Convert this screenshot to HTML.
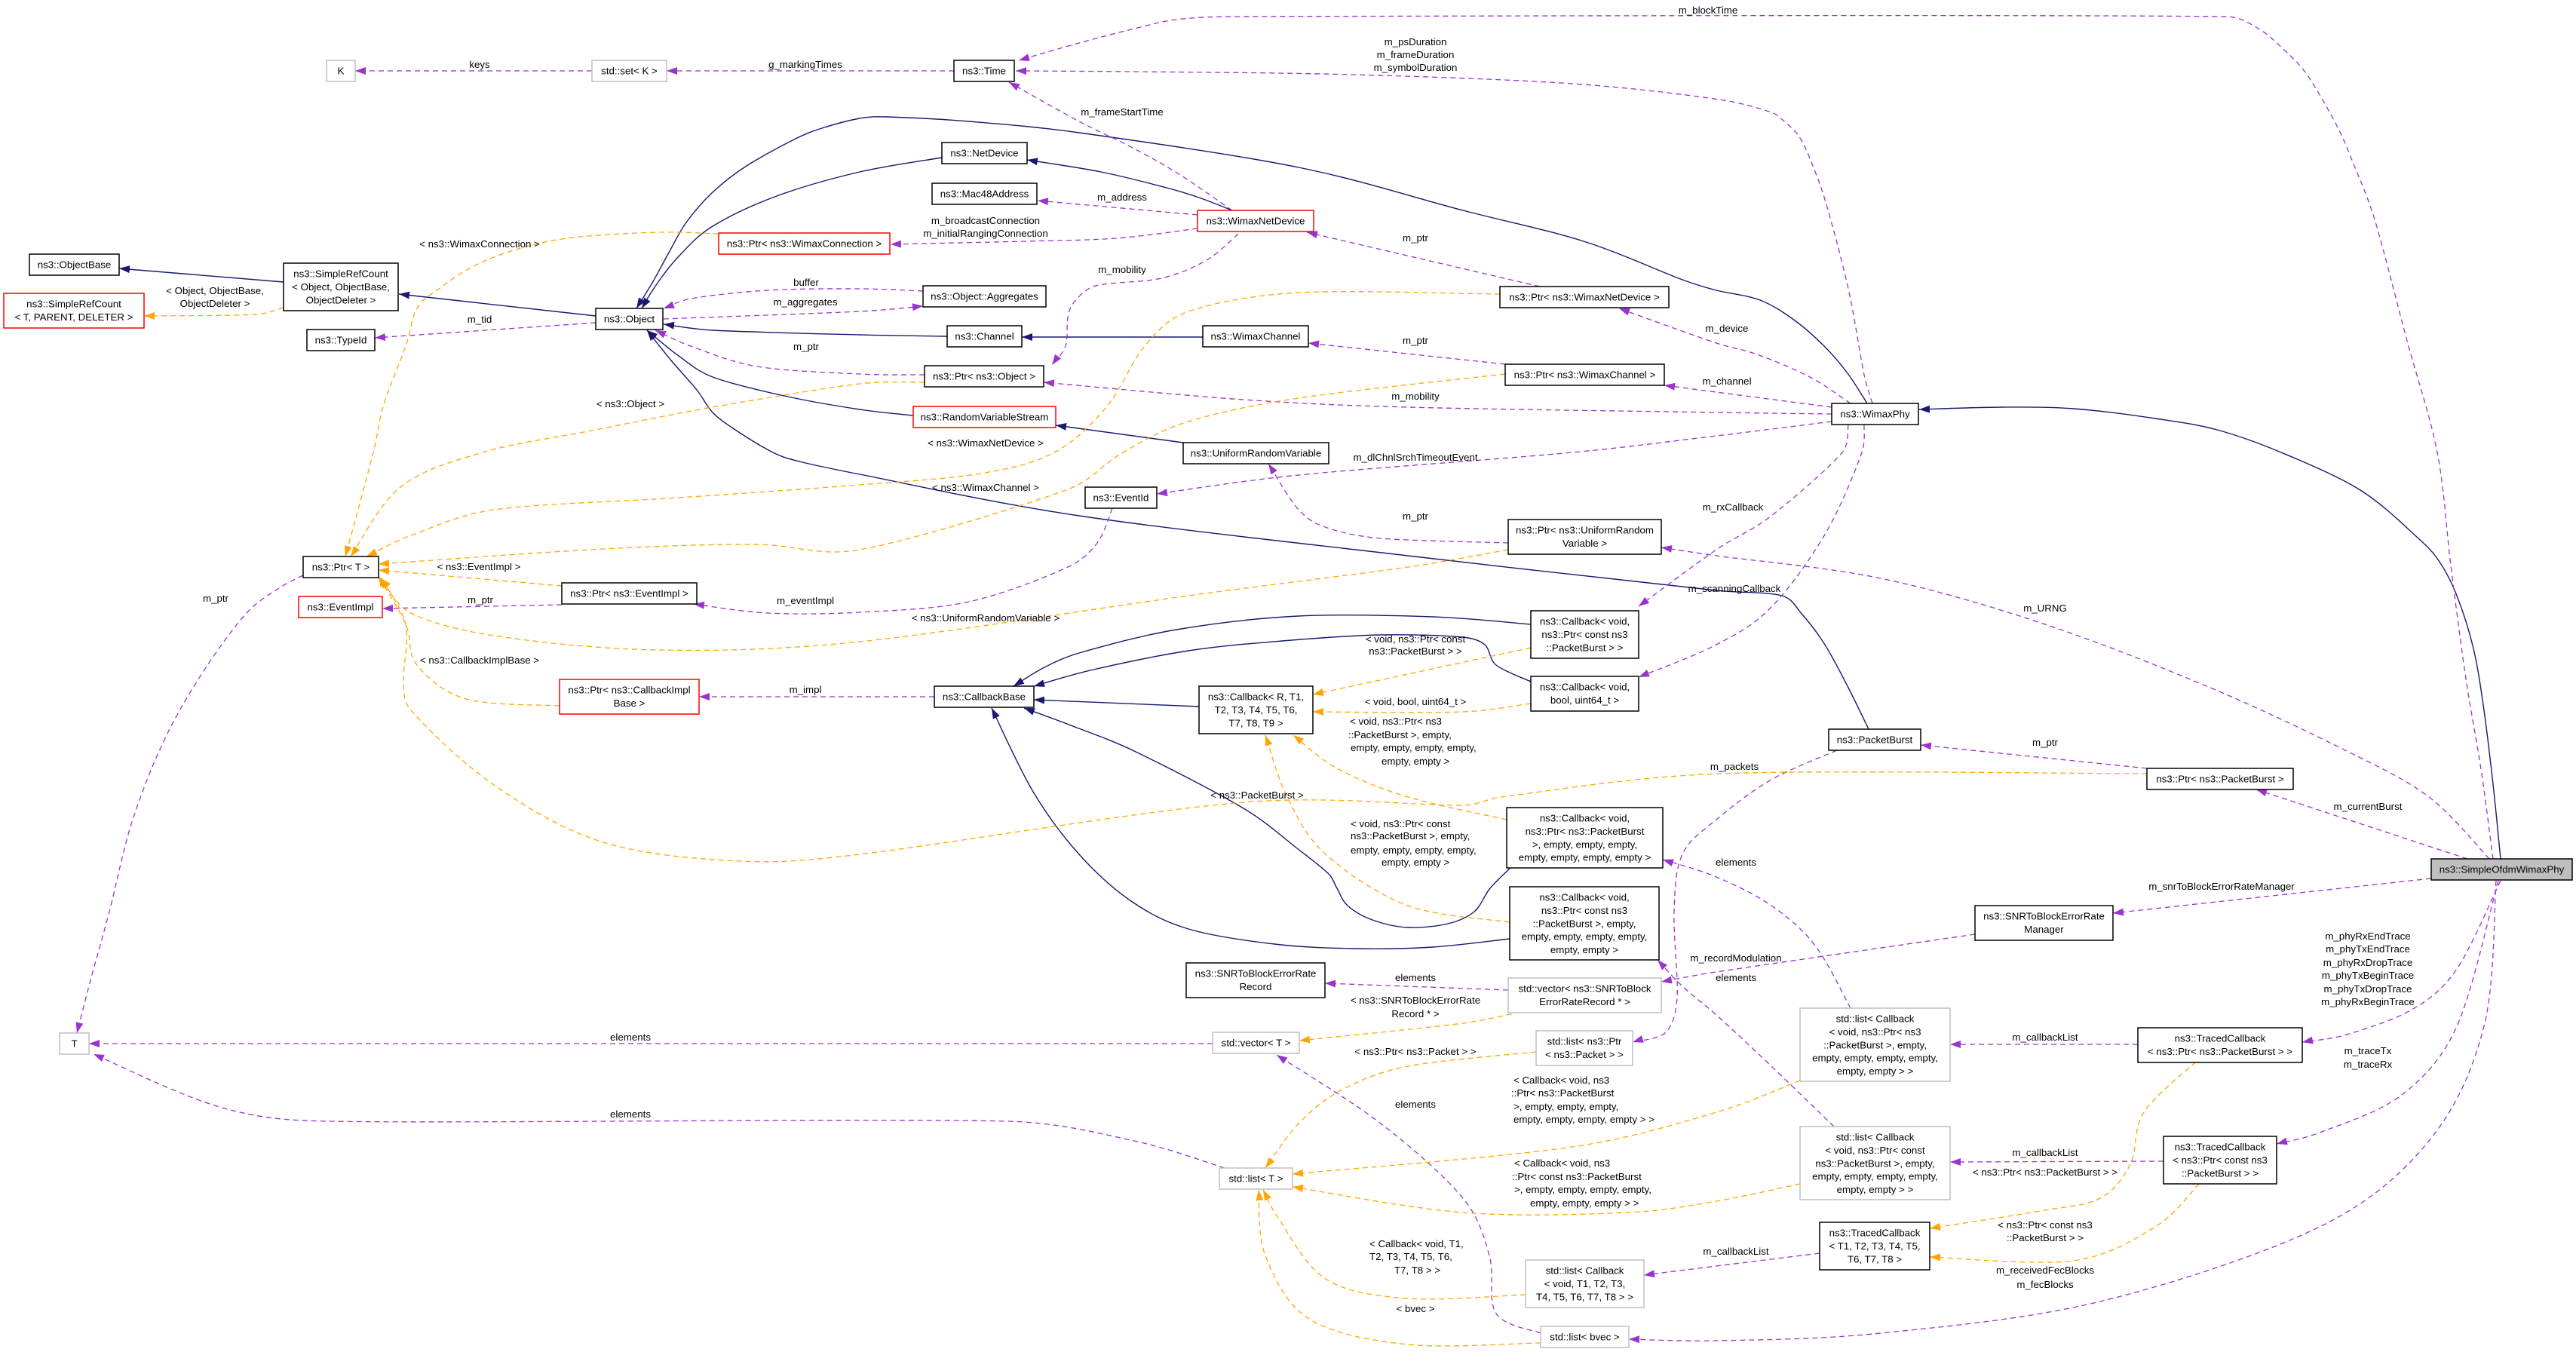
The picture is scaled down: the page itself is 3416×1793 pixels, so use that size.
<!DOCTYPE html>
<html><head><meta charset="utf-8"><style>
html,body{margin:0;padding:0;background:#fff}
svg{display:block}
text{font-family:"Liberation Sans",Arial,sans-serif;font-size:13.3px;fill:#000}
.n{fill:none;stroke:#191970;stroke-width:1.4;stroke-linejoin:round}
.p{fill:none;stroke:#9a32cd;stroke-width:1.3;stroke-dasharray:7,5;stroke-linejoin:round}
.o{fill:none;stroke:#ffa500;stroke-width:1.3;stroke-dasharray:7,5;stroke-linejoin:round}
.bk{fill:#fff;stroke:#000;stroke-width:1.5}
.gr{fill:#fff;stroke:#bfbfbf;stroke-width:1.5}
.rd{fill:#fff;stroke:#ff0000;stroke-width:1.5}
.sel{fill:#bfbfbf;stroke:#000;stroke-width:1.5}
.c{text-anchor:middle}
</style></head><body>
<svg width="3416" height="1793" viewBox="0 0 3416 1793" xmlns="http://www.w3.org/2000/svg">
<defs>
<marker id="ap" markerUnits="userSpaceOnUse" markerWidth="15" markerHeight="11" refX="14" refY="5" orient="auto"><path d="M0,0 L14,5 L0,10 z" fill="#9a32cd"/></marker>
<marker id="ao" markerUnits="userSpaceOnUse" markerWidth="15" markerHeight="11" refX="14" refY="5" orient="auto"><path d="M0,0 L14,5 L0,10 z" fill="#ffa500"/></marker>
<marker id="an" markerUnits="userSpaceOnUse" markerWidth="15" markerHeight="11" refX="14" refY="5" orient="auto"><path d="M0,0 L14,5 L0,10 z" fill="#191970"/></marker>
</defs>
<rect width="3416" height="1793" fill="#fff"/>

<!-- navy inheritance edges -->
<g marker-end="url(#an)">
<polyline class="n" points="790,419 529,390"/>
<polyline class="n" points="376,374 158,356"/>
<polyline class="n" points="1249,209 1140,228 1030,260 945,300 900,340 870,378 851,409"/>
<polyline class="n" points="1634,279 1590,262 1547,249 1460,228 1362,212"/>
<polyline class="n" points="2476,535 2450,495 2420,460 2380,425 2334,398 2276,385 2231,371 2100,320 1940,279 1722,222 1431,176 1285,161 1176,155 1140,157 1090,170 1055,184 990,220 945,255 910,295 887,335 865,375 844,409"/>
<polyline class="n" points="1256,446 1140,444 945,438 880,430"/>
<polyline class="n" points="1595,447 1355,447"/>
<polyline class="n" points="1211,551 1140,543 1040,525 945,500 900,472 858,438"/>
<polyline class="n" points="1569,587 1400,564"/>
<polyline class="n" points="2478,967 2450,910 2420,855 2390,815 2363,790 2276,783 1867,737 1431,684 1140,629 1060,612 1025,600 975,570 945,547 924,517 890,478 858,438"/>
<polyline class="n" points="2030,828 1900,818 1722,817 1560,835 1431,866 1385,885 1344,910"/>
<polyline class="n" points="2030,904 1984,882 1969,855 1940,845 1831,842 1700,850 1576,863 1450,888 1371,910"/>
<polyline class="n" points="1590,937 1371,928"/>
<polyline class="n" points="2005,1149 1976,1178 1955,1209 1920,1225 1867,1230 1820,1220 1787,1201 1773,1178 1762,1159 1720,1125 1649,1072 1504,996 1420,962 1358,939"/>
<polyline class="n" points="2002,1245 1900,1256 1795,1258 1690,1252 1576,1232 1500,1195 1431,1133 1370,1050 1315,939"/>
<polyline class="n" points="3316,1139 3306,1040 3294,942 3280,860 3258,790 3235,745 3207,714 3130,650 3025,600 2940,570 2858,555 2750,542 2654,540 2545,543"/>
</g>

<!-- purple usage edges -->
<g marker-end="url(#ap)">
<polyline class="p" points="785,94 471,94"/>
<polyline class="p" points="1265,94 884,94"/>
<polyline class="p" points="3306,1139 3290,1020 3270,900 3250,750 3232,600 3192,452 3149,291 3120,215 3098,165 3060,100 3032,69 2995,38 2952,22 1635,22 1560,26 1504,38 1431,57 1351,80"/>
<polyline class="p" points="2483,535 2472,497 2451,383 2421,268 2400,210 2385,180 2365,160 2349,149 2280,132 2085,111 1795,99 1500,95 1347,94"/>
<polyline class="p" points="1634,279 1562,230 1500,195 1431,161 1338,109"/>
<polyline class="p" points="1588,285 1376,266"/>
<polyline class="p" points="1588,303 1480,316 1358,320 1181,324"/>
<polyline class="p" points="1642,310 1600,345 1540,369 1453,379 1425,400 1416,421 1413,459 1395,484"/>
<polyline class="p" points="2042,380 1733,308"/>
<polyline class="p" points="2454,535 2400,500 2330,470 2276,455 2147,409"/>
<polyline class="p" points="1996,483 1735,455"/>
<polyline class="p" points="2429,540 2207,511"/>
<polyline class="p" points="2429,549 2280,547 1867,540 1649,530 1384,507"/>
<polyline class="p" points="2429,559 2276,578 2085,600 1722,630 1534,655"/>
<polyline class="p" points="2000,720 1831,714 1760,700 1722,676 1682,615"/>
<polyline class="p" points="3301,1139 3221,1057 3112,996 2931,912 2712,828 2494,767 2276,737 2203,726"/>
<polyline class="p" points="1475,674 1455,720 1416,752 1285,798 1140,812 1018,813 920,801"/>
<polyline class="p" points="745,802 507,807"/>
<polyline class="p" points="402,763 370,780 327,813 270,890 218,981 175,1090 145,1209 120,1300 102,1370"/>
<polyline class="p" points="1239,924 927,924"/>
<polyline class="p" points="2451,563 2443,600 2349,684 2276,729 2173,804"/>
<polyline class="p" points="2472,563 2469,600 2421,707 2349,805 2276,855 2173,898"/>
<polyline class="p" points="2847,1019 2547,988"/>
<polyline class="p" points="3272,1139 2992,1047"/>
<polyline class="p" points="2436,995 2349,1034 2276,1087 2231,1133 2220,1209 2224,1323 2209,1369 2165,1382"/>
<polyline class="p" points="2454,1337 2407,1254 2349,1201 2276,1163 2205,1140"/>
<polyline class="p" points="2432,1494 2349,1414 2276,1346 2231,1308 2198,1273"/>
<polyline class="p" points="2000,1313 1757,1304"/>
<polyline class="p" points="2619,1239 2276,1289 2203,1302"/>
<polyline class="p" points="3224,1165 2802,1211"/>
<polyline class="p" points="2835,1385 2586,1385"/>
<polyline class="p" points="3316,1168 3258,1285 3200,1338 3112,1372 3053,1382"/>
<polyline class="p" points="3313,1168 3258,1361 3185,1452 3076,1502 3019,1517"/>
<polyline class="p" points="2869,1540 2586,1541"/>
<polyline class="p" points="3310,1168 3294,1361 3221,1513 3076,1627 2785,1726 2494,1768 2276,1778 2160,1776"/>
<polyline class="p" points="2413,1662 2276,1679 2180,1691"/>
<polyline class="p" points="2043,1768 1984,1742 1975,1665 1940,1589 1831,1490 1693,1399"/>
<polyline class="p" points="1608,1384 118,1384"/>
<polyline class="p" points="1624,1549 1504,1513 1336,1487 436,1487 291,1468 124,1398"/>
<polyline class="p" points="1226,497 1140,496 1004,486 916,459 869,438"/>
<polyline class="p" points="1224,386 1140,383 1018,385 916,396 880,409"/>
<polyline class="p" points="880,423 1140,413 1224,406"/>
<polyline class="p" points="790,428 497,448"/>
</g>

<!-- orange template edges -->
<g marker-end="url(#ao)">
<polyline class="o" points="376,408 340,417 191,419"/>
<polyline class="o" points="953,310 873,308 760,315 691,329 630,352 582,383 553,409 538,459 509,536 495,600 458,738"/>
<polyline class="o" points="1226,507 1140,509 945,540 790,570 640,600 531,646 465,738"/>
<polyline class="o" points="1989,390 1722,388 1576,413 1518,459 1467,540 1398,600 1300,628 1140,643 900,660 655,676 545,710 486,738"/>
<polyline class="o" points="1996,496 1722,528 1576,559 1489,600 1416,649 1140,729 1000,722 800,728 502,748"/>
<polyline class="o" points="2000,729 1867,752 1576,790 1140,851 873,862 655,843 545,813 505,767"/>
<polyline class="o" points="2847,1026 2280,1026 1991,1057 1940,1068 1649,1064 1140,1133 982,1142 800,1117 655,1041 545,942 535,904 538,828 505,766"/>
<polyline class="o" points="742,936 618,927 553,882 538,828 502,764"/>
<polyline class="o" points="745,777 502,756"/>
<polyline class="o" points="2030,859 1741,921"/>
<polyline class="o" points="2030,933 1940,944 1741,944"/>
<polyline class="o" points="1998,1087 1867,1057 1773,1019 1715,975"/>
<polyline class="o" points="2002,1223 1867,1201 1758,1133 1707,1057 1678,975"/>
<polyline class="o" points="2016,1342 1940,1357 1723,1380"/>
<polyline class="o" points="2037,1395 1867,1414 1780,1445 1722,1490 1678,1549"/>
<polyline class="o" points="2387,1433 2276,1475 2085,1521 1714,1557"/>
<polyline class="o" points="2387,1570 2276,1593 2158,1608 1940,1608 1714,1574"/>
<polyline class="o" points="2023,1717 1867,1722 1758,1696 1693,1612 1675,1578"/>
<polyline class="o" points="2043,1781 1867,1783 1736,1749 1678,1665 1669,1578"/>
<polyline class="o" points="2912,1408 2843,1475 2825,1544 2785,1589 2712,1605 2559,1629"/>
<polyline class="o" points="2916,1570 2858,1627 2749,1672 2559,1667"/>
</g>

<!-- nodes -->
<g>
<rect class="gr" x="433" y="80" width="38" height="28"/><text class="c" x="452" y="98.5">K</text>
<rect class="gr" x="785" y="80" width="99" height="28"/><text class="c" x="834.5" y="98.5">std::set&lt; K &gt;</text>
<rect class="bk" x="1265" y="80" width="80" height="28"/><text class="c" x="1305" y="98.5">ns3::Time</text>
<rect class="bk" x="1249" y="189" width="113" height="28"/><text class="c" x="1305.5" y="207.5">ns3::NetDevice</text>
<rect class="bk" x="1236" y="243" width="139" height="28"/><text class="c" x="1305.5" y="261.5">ns3::Mac48Address</text>
<rect class="rd" x="1588" y="279" width="154" height="28"/><text class="c" x="1665" y="297.5">ns3::WimaxNetDevice</text>
<rect class="bk" x="39" y="337" width="119" height="28"/><text class="c" x="98.5" y="355.5">ns3::ObjectBase</text>
<rect class="bk" x="376" y="349" width="152" height="63"/><text class="c" x="452" y="367.5">ns3::SimpleRefCount</text><text class="c" x="452" y="384.9">&lt; Object, ObjectBase,</text><text class="c" x="452" y="402.3">ObjectDeleter &gt;</text>
<rect class="rd" x="5" y="389" width="186" height="46"/><text class="c" x="98" y="407.5">ns3::SimpleRefCount</text><text class="c" x="98" y="424.9">&lt; T, PARENT, DELETER &gt;</text>
<rect class="rd" x="953" y="309" width="227" height="28"/><text class="c" x="1066.5" y="327.5">ns3::Ptr&lt; ns3::WimaxConnection &gt;</text>
<rect class="bk" x="1224" y="379" width="163" height="28"/><text class="c" x="1305.5" y="397.5">ns3::Object::Aggregates</text>
<rect class="bk" x="790" y="409" width="89" height="28"/><text class="c" x="834.5" y="427.5">ns3::Object</text>
<rect class="bk" x="407" y="437" width="90" height="28"/><text class="c" x="452" y="455.5">ns3::TypeId</text>
<rect class="bk" x="1256" y="432" width="99" height="28"/><text class="c" x="1305.5" y="450.5">ns3::Channel</text>
<rect class="bk" x="1595" y="432" width="140" height="28"/><text class="c" x="1665" y="450.5">ns3::WimaxChannel</text>
<rect class="bk" x="1989" y="380" width="224" height="28"/><text class="c" x="2101" y="398.5">ns3::Ptr&lt; ns3::WimaxNetDevice &gt;</text>
<rect class="bk" x="1226" y="485" width="158" height="28"/><text class="c" x="1305" y="503.5">ns3::Ptr&lt; ns3::Object &gt;</text>
<rect class="bk" x="1996" y="483" width="211" height="28"/><text class="c" x="2101.5" y="501.5">ns3::Ptr&lt; ns3::WimaxChannel &gt;</text>
<rect class="bk" x="2429" y="535" width="115" height="28"/><text class="c" x="2486.5" y="553.5">ns3::WimaxPhy</text>
<rect class="rd" x="1211" y="539" width="189" height="28"/><text class="c" x="1305.5" y="557.5">ns3::RandomVariableStream</text>
<rect class="bk" x="1569" y="587" width="193" height="28"/><text class="c" x="1665.5" y="605.5">ns3::UniformRandomVariable</text>
<rect class="bk" x="1439" y="646" width="95" height="28"/><text class="c" x="1486.5" y="664.5">ns3::EventId</text>
<rect class="bk" x="2000" y="689" width="203" height="46"/><text class="c" x="2101.5" y="707.5">ns3::Ptr&lt; ns3::UniformRandom</text><text class="c" x="2101.5" y="724.9">Variable &gt;</text>
<rect class="bk" x="402" y="738" width="100" height="28"/><text class="c" x="452" y="756.5">ns3::Ptr&lt; T &gt;</text>
<rect class="bk" x="745" y="773" width="179" height="28"/><text class="c" x="834.5" y="791.5">ns3::Ptr&lt; ns3::EventImpl &gt;</text>
<rect class="rd" x="396" y="791" width="111" height="28"/><text class="c" x="451.5" y="809.5">ns3::EventImpl</text>
<rect class="bk" x="2030" y="810" width="143" height="63"/><text class="c" x="2101.5" y="828.5">ns3::Callback&lt; void,</text><text class="c" x="2101.5" y="845.9">ns3::Ptr&lt; const ns3</text><text class="c" x="2101.5" y="863.3">::PacketBurst &gt; &gt;</text>
<rect class="bk" x="2030" y="897" width="143" height="46"/><text class="c" x="2101.5" y="915.5">ns3::Callback&lt; void,</text><text class="c" x="2101.5" y="932.9">bool, uint64_t &gt;</text>
<rect class="rd" x="742" y="901" width="185" height="46"/><text class="c" x="834.5" y="919.5">ns3::Ptr&lt; ns3::CallbackImpl</text><text class="c" x="834.5" y="936.9">Base &gt;</text>
<rect class="bk" x="1239" y="910" width="132" height="28"/><text class="c" x="1305" y="928.5">ns3::CallbackBase</text>
<rect class="bk" x="1590" y="910" width="151" height="63"/><text class="c" x="1665.5" y="928.5">ns3::Callback&lt; R, T1,</text><text class="c" x="1665.5" y="945.9">T2, T3, T4, T5, T6,</text><text class="c" x="1665.5" y="963.3">T7, T8, T9 &gt;</text>
<rect class="bk" x="2425" y="967" width="122" height="28"/><text class="c" x="2486" y="985.5">ns3::PacketBurst</text>
<rect class="bk" x="2847" y="1019" width="194" height="28"/><text class="c" x="2944" y="1037.5">ns3::Ptr&lt; ns3::PacketBurst &gt;</text>
<rect class="bk" x="1998" y="1071" width="207" height="80"/><text class="c" x="2101.5" y="1089.5">ns3::Callback&lt; void,</text><text class="c" x="2101.5" y="1106.9">ns3::Ptr&lt; ns3::PacketBurst</text><text class="c" x="2101.5" y="1124.3">&gt;, empty, empty, empty,</text><text class="c" x="2101.5" y="1141.7">empty, empty, empty, empty &gt;</text>
<rect class="sel" x="3224" y="1139" width="187" height="28"/><text class="c" x="3317.5" y="1157.5">ns3::SimpleOfdmWimaxPhy</text>
<rect class="bk" x="2002" y="1176" width="198" height="97"/><text class="c" x="2101" y="1194.5">ns3::Callback&lt; void,</text><text class="c" x="2101" y="1211.9">ns3::Ptr&lt; const ns3</text><text class="c" x="2101" y="1229.3">::PacketBurst &gt;, empty,</text><text class="c" x="2101" y="1246.7">empty, empty, empty, empty,</text><text class="c" x="2101" y="1264.1">empty, empty &gt;</text>
<rect class="bk" x="2619" y="1201" width="183" height="46"/><text class="c" x="2710.5" y="1219.5">ns3::SNRToBlockErrorRate</text><text class="c" x="2710.5" y="1236.9">Manager</text>
<rect class="bk" x="1573" y="1277" width="184" height="46"/><text class="c" x="1665" y="1295.5">ns3::SNRToBlockErrorRate</text><text class="c" x="1665" y="1312.9">Record</text>
<rect class="gr" x="2000" y="1297" width="203" height="46"/><text class="c" x="2101.5" y="1315.5">std::vector&lt; ns3::SNRToBlock</text><text class="c" x="2101.5" y="1332.9">ErrorRateRecord * &gt;</text>
<rect class="gr" x="2387" y="1337" width="199" height="97"/><text class="c" x="2486.5" y="1355.5">std::list&lt; Callback</text><text class="c" x="2486.5" y="1372.9">&lt; void, ns3::Ptr&lt; ns3</text><text class="c" x="2486.5" y="1390.3">::PacketBurst &gt;, empty,</text><text class="c" x="2486.5" y="1407.7">empty, empty, empty, empty,</text><text class="c" x="2486.5" y="1425.1">empty, empty &gt; &gt;</text>
<rect class="bk" x="2835" y="1363" width="218" height="46"/><text class="c" x="2944" y="1381.5">ns3::TracedCallback</text><text class="c" x="2944" y="1398.9">&lt; ns3::Ptr&lt; ns3::PacketBurst &gt; &gt;</text>
<rect class="gr" x="2037" y="1367" width="128" height="46"/><text class="c" x="2101" y="1385.5">std::list&lt; ns3::Ptr</text><text class="c" x="2101" y="1402.9">&lt; ns3::Packet &gt; &gt;</text>
<rect class="gr" x="1608" y="1369" width="115" height="28"/><text class="c" x="1665.5" y="1387.5">std::vector&lt; T &gt;</text>
<rect class="gr" x="79" y="1370" width="39" height="28"/><text class="c" x="98.5" y="1388.5">T</text>
<rect class="gr" x="2387" y="1494" width="199" height="97"/><text class="c" x="2486.5" y="1512.5">std::list&lt; Callback</text><text class="c" x="2486.5" y="1529.9">&lt; void, ns3::Ptr&lt; const</text><text class="c" x="2486.5" y="1547.3">ns3::PacketBurst &gt;, empty,</text><text class="c" x="2486.5" y="1564.7">empty, empty, empty, empty,</text><text class="c" x="2486.5" y="1582.1">empty, empty &gt; &gt;</text>
<rect class="bk" x="2869" y="1507" width="150" height="63"/><text class="c" x="2944" y="1525.5">ns3::TracedCallback</text><text class="c" x="2944" y="1542.9">&lt; ns3::Ptr&lt; const ns3</text><text class="c" x="2944" y="1560.3">::PacketBurst &gt; &gt;</text>
<rect class="gr" x="1617" y="1549" width="97" height="28"/><text class="c" x="1665.5" y="1567.5">std::list&lt; T &gt;</text>
<rect class="bk" x="2413" y="1621" width="146" height="63"/><text class="c" x="2486" y="1639.5">ns3::TracedCallback</text><text class="c" x="2486" y="1656.9">&lt; T1, T2, T3, T4, T5,</text><text class="c" x="2486" y="1674.3">T6, T7, T8 &gt;</text>
<rect class="gr" x="2023" y="1671" width="157" height="63"/><text class="c" x="2101.5" y="1689.5">std::list&lt; Callback</text><text class="c" x="2101.5" y="1706.9">&lt; void, T1, T2, T3,</text><text class="c" x="2101.5" y="1724.3">T4, T5, T6, T7, T8 &gt; &gt;</text>
<rect class="gr" x="2043" y="1759" width="117" height="28"/><text class="c" x="2101.5" y="1777.5">std::list&lt; bvec &gt;</text>
</g>

<!-- edge labels -->
<g class="lbl">
<text class="c" x="636" y="90">keys</text>
<text class="c" x="1068" y="90">g_markingTimes</text>
<text class="c" x="2265" y="18">m_blockTime</text>
<text class="c" x="1877" y="60">m_psDuration</text>
<text class="c" x="1877" y="77">m_frameDuration</text>
<text class="c" x="1877" y="94">m_symbolDuration</text>
<text class="c" x="1488" y="153">m_frameStartTime</text>
<text class="c" x="1488" y="266">m_address</text>
<text class="c" x="1307" y="297">m_broadcastConnection</text>
<text class="c" x="1307" y="314">m_initialRangingConnection</text>
<text class="c" x="636" y="328">&lt; ns3::WimaxConnection &gt;</text>
<text class="c" x="1877" y="320">m_ptr</text>
<text class="c" x="1488" y="362">m_mobility</text>
<text class="c" x="1069" y="379">buffer</text>
<text class="c" x="285" y="390">&lt; Object, ObjectBase,</text>
<text class="c" x="285" y="407">ObjectDeleter &gt;</text>
<text class="c" x="1068" y="405">m_aggregates</text>
<text class="c" x="636" y="428">m_tid</text>
<text class="c" x="2290" y="440">m_device</text>
<text class="c" x="1877" y="456">m_ptr</text>
<text class="c" x="1069" y="464">m_ptr</text>
<text class="c" x="2290" y="510">m_channel</text>
<text class="c" x="1877" y="530">m_mobility</text>
<text class="c" x="836" y="540">&lt; ns3::Object &gt;</text>
<text class="c" x="1307" y="592">&lt; ns3::WimaxNetDevice &gt;</text>
<text class="c" x="1877" y="611">m_dlChnlSrchTimeoutEvent</text>
<text class="c" x="1307" y="651">&lt; ns3::WimaxChannel &gt;</text>
<text class="c" x="2298" y="677">m_rxCallback</text>
<text class="c" x="1877" y="689">m_ptr</text>
<text class="c" x="635" y="756">&lt; ns3::EventImpl &gt;</text>
<text class="c" x="2300" y="785">m_scanningCallback</text>
<text class="c" x="286" y="798">m_ptr</text>
<text class="c" x="637" y="800">m_ptr</text>
<text class="c" x="1068" y="801">m_eventImpl</text>
<text class="c" x="2712" y="811">m_URNG</text>
<text class="c" x="1307" y="824">&lt; ns3::UniformRandomVariable &gt;</text>
<text class="c" x="1877" y="852">&lt; void, ns3::Ptr&lt; const</text>
<text class="c" x="1877" y="868">ns3::PacketBurst &gt; &gt;</text>
<text class="c" x="636" y="880">&lt; ns3::CallbackImplBase &gt;</text>
<text class="c" x="1068" y="919">m_impl</text>
<text class="c" x="1877" y="935">&lt; void, bool, uint64_t &gt;</text>
<text x="1790" y="961">&lt; void, ns3::Ptr&lt; ns3</text>
<text x="1788" y="979">::PacketBurst &gt;, empty,</text>
<text x="1791" y="996">empty, empty, empty, empty,</text>
<text x="1832" y="1014">empty, empty &gt;</text>
<text class="c" x="2712" y="989">m_ptr</text>
<text class="c" x="2300" y="1021">m_packets</text>
<text class="c" x="1667" y="1059">&lt; ns3::PacketBurst &gt;</text>
<text class="c" x="3140" y="1074">m_currentBurst</text>
<text x="1791" y="1097">&lt; void, ns3::Ptr&lt; const</text>
<text x="1791" y="1113">ns3::PacketBurst &gt;, empty,</text>
<text x="1791" y="1132">empty, empty, empty, empty,</text>
<text x="1832" y="1148">empty, empty &gt;</text>
<text class="c" x="2302" y="1148">elements</text>
<text class="c" x="2946" y="1180">m_snrToBlockErrorRateManager</text>
<text class="c" x="3140" y="1246">m_phyRxEndTrace</text>
<text class="c" x="3140" y="1263">m_phyTxEndTrace</text>
<text class="c" x="3140" y="1281">m_phyRxDropTrace</text>
<text class="c" x="3140" y="1298">m_phyTxBeginTrace</text>
<text class="c" x="3140" y="1316">m_phyTxDropTrace</text>
<text class="c" x="3140" y="1333">m_phyRxBeginTrace</text>
<text class="c" x="2302" y="1275">m_recordModulation</text>
<text class="c" x="1877" y="1301">elements</text>
<text class="c" x="2302" y="1301">elements</text>
<text class="c" x="1877" y="1331">&lt; ns3::SNRToBlockErrorRate</text>
<text class="c" x="1877" y="1349">Record * &gt;</text>
<text class="c" x="836" y="1380">elements</text>
<text class="c" x="2712" y="1380">m_callbackList</text>
<text class="c" x="3140" y="1398">m_traceTx</text>
<text class="c" x="3140" y="1416">m_traceRx</text>
<text class="c" x="1877" y="1399">&lt; ns3::Ptr&lt; ns3::Packet &gt; &gt;</text>
<text x="2007" y="1437">&lt; Callback&lt; void, ns3</text>
<text x="2004" y="1454">::Ptr&lt; ns3::PacketBurst</text>
<text x="2007" y="1472">&gt;, empty, empty, empty,</text>
<text x="2007" y="1489">empty, empty, empty, empty &gt; &gt;</text>
<text class="c" x="1877" y="1469">elements</text>
<text class="c" x="836" y="1482">elements</text>
<text class="c" x="2712" y="1533">m_callbackList</text>
<text x="2008" y="1547">&lt; Callback&lt; void, ns3</text>
<text x="2005" y="1565">::Ptr&lt; const ns3::PacketBurst</text>
<text x="2008" y="1582">&gt;, empty, empty, empty, empty,</text>
<text x="2029" y="1600">empty, empty, empty &gt; &gt;</text>
<text class="c" x="2712" y="1559">&lt; ns3::Ptr&lt; ns3::PacketBurst &gt; &gt;</text>
<text class="c" x="2712" y="1629">&lt; ns3::Ptr&lt; const ns3</text>
<text class="c" x="2712" y="1646">::PacketBurst &gt; &gt;</text>
<text x="1816" y="1654">&lt; Callback&lt; void, T1,</text>
<text x="1816" y="1671">T2, T3, T4, T5, T6,</text>
<text x="1849" y="1689">T7, T8 &gt; &gt;</text>
<text class="c" x="2302" y="1664">m_callbackList</text>
<text class="c" x="2712" y="1689">m_receivedFecBlocks</text>
<text class="c" x="2712" y="1708">m_fecBlocks</text>
<text class="c" x="1877" y="1740">&lt; bvec &gt;</text>
</g>
</svg>
<script>
(function(){
  var NS='http://www.w3.org/2000/svg';
  var pls=document.querySelectorAll('polyline');
  for(var k=0;k<pls.length;k++){
    var pl=pls[k];
    var a=pl.getAttribute('points').trim().split(/\s+/).map(function(s){return s.split(',').map(Number);});
    if(a.length<3) continue;
    var d='M'+a[0][0]+','+a[0][1];
    for(var i=0;i<a.length-1;i++){
      var p0=a[i-1]||a[i],p1=a[i],p2=a[i+1],p3=a[i+2]||a[i+1];
      var seg=Math.hypot(p2[0]-p1[0],p2[1]-p1[1]);
      var t1=[(p2[0]-p0[0])/6,(p2[1]-p0[1])/6];
      var t2=[(p3[0]-p1[0])/6,(p3[1]-p1[1])/6];
      var l1=Math.hypot(t1[0],t1[1]),l2=Math.hypot(t2[0],t2[1]);
      var m=seg*0.4;
      if(l1>m&&l1>0){t1=[t1[0]*m/l1,t1[1]*m/l1];}
      if(l2>m&&l2>0){t2=[t2[0]*m/l2,t2[1]*m/l2];}
      var c1=[p1[0]+t1[0],p1[1]+t1[1]],c2=[p2[0]-t2[0],p2[1]-t2[1]];
      d+=' C'+c1[0].toFixed(1)+','+c1[1].toFixed(1)+' '+c2[0].toFixed(1)+','+c2[1].toFixed(1)+' '+p2[0]+','+p2[1];
    }
    var p=document.createElementNS(NS,'path');
    p.setAttribute('d',d);
    p.setAttribute('class',pl.getAttribute('class'));
    pl.parentNode.replaceChild(p,pl);
  }
})();
</script>
</body></html>
